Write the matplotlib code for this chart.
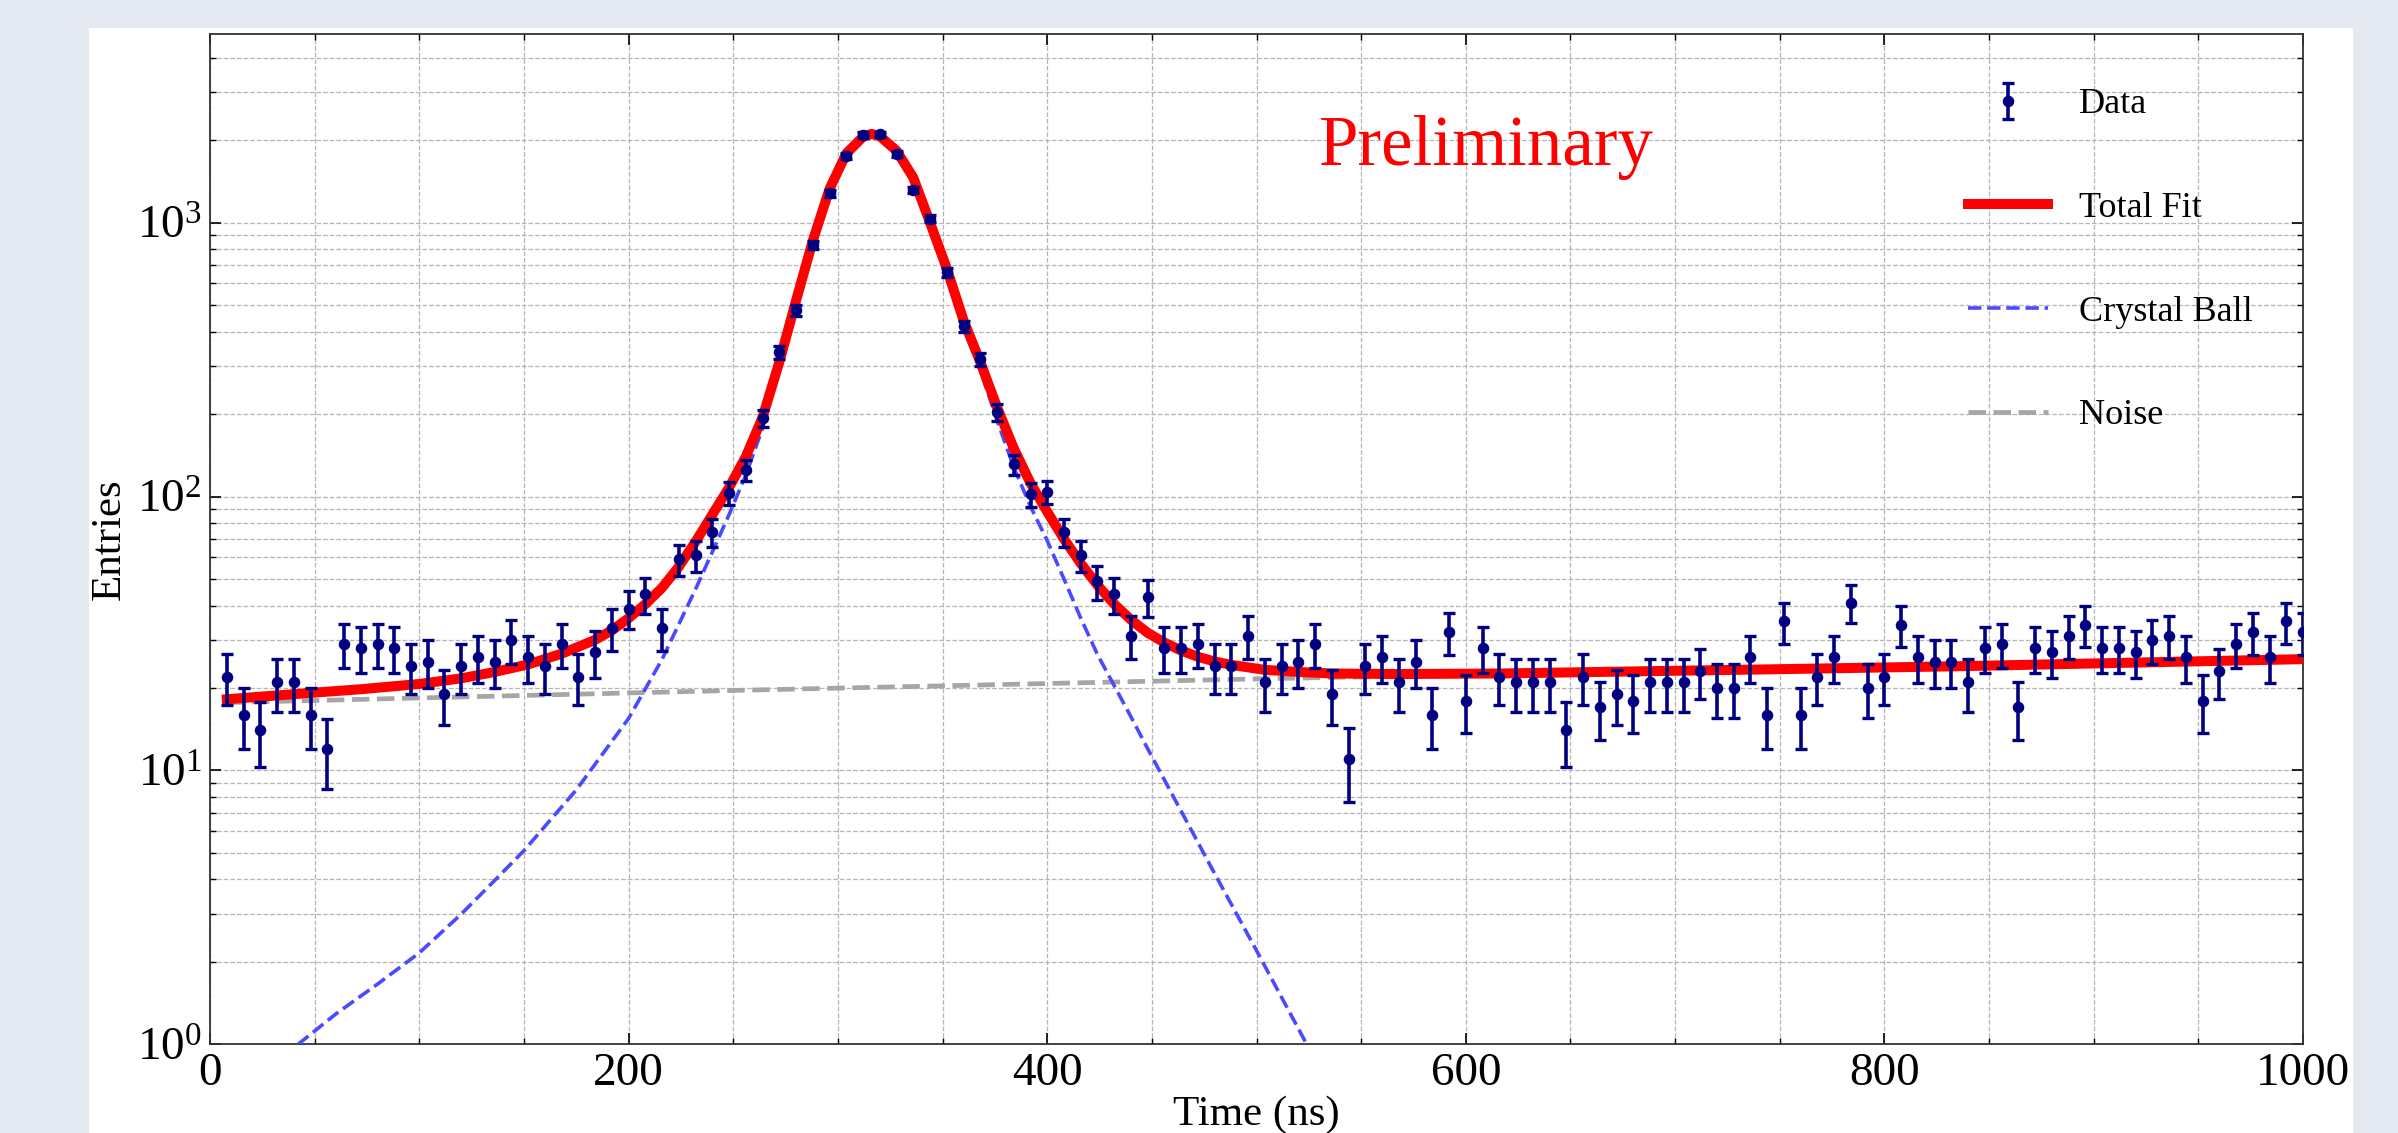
import numpy as np
import matplotlib
matplotlib.use("Agg")
import matplotlib.pyplot as plt
from matplotlib.ticker import MultipleLocator
from matplotlib.patches import Rectangle

plt.rcParams['font.family'] = 'serif'
plt.rcParams['font.serif'] = ['Liberation Serif', 'DejaVu Serif']
plt.rcParams['mathtext.fontset'] = 'stix'

# histogram bin centres (ns) and counts
time_ns = np.arange(8, 1001, 8)
counts = np.array([
    22, 16, 14, 21, 21, 16, 12, 29, 28, 29, 28, 24, 25, 19, 24, 26, 25, 30, 26, 24, 29,
    22, 27, 33, 39, 44, 33, 59, 61, 74, 103, 125, 193, 336, 479, 828, 1280, 1757, 2090, 2105, 1778,
    1315, 1035, 659, 418, 317, 203, 131, 102, 104, 74, 61, 49, 44, 31, 43, 28, 28, 29, 24, 24,
    31, 21, 24, 25, 29, 19, 11, 24, 26, 21, 25, 16, 32, 18, 28, 22, 21, 21, 21, 14, 22,
    17, 19, 18, 21, 21, 21, 23, 20, 20, 26, 16, 35, 16, 22, 26, 41, 20, 22, 34, 26, 25,
    25, 21, 28, 29, 17, 28, 27, 31, 34, 28, 28, 27, 30, 31, 26, 18, 23, 29, 32, 26, 35, 32,
])
errors = np.sqrt(counts)

# total fit curve
fit_x = [8, 24, 48, 72, 100, 120, 136, 152, 168, 184, 192, 200, 208, 216, 224, 232, 240, 248,
         256, 264, 272, 280, 288, 296, 304, 312, 316, 320, 328, 336, 344, 352, 360, 368, 376,
         384, 392, 400, 408, 416, 424, 432, 440, 448, 456, 464, 472, 480, 488, 504, 520, 536,
         568, 616, 664, 744, 832, 912, 1000]
fit_y = [18.2, 18.6, 19.2, 19.8, 20.7, 21.7, 22.9, 24.4, 26.7, 30.0, 32.5, 36.0, 40.5, 46.5,
         55.5, 68.5, 86, 108, 140, 195, 310, 520, 860, 1330, 1790, 2060, 2110, 2070, 1830,
         1460, 1000, 680, 440, 310, 212, 150, 112, 88, 70, 57, 47.5, 40.5, 35.5, 31.8, 29.3,
         27.4, 26, 25, 24.3, 23.3, 22.9, 22.6, 22.5, 22.6, 22.9, 23.4, 24.0, 24.7, 25.5]

# crystal ball component
cb_x = [42, 60, 80, 100, 120, 135, 150, 175, 200, 216, 232, 248, 256, 264, 272, 280, 288,
        296, 304, 312, 316, 320, 328, 336, 344, 352, 360, 368, 376, 384, 392, 400, 408, 416,
        424, 432, 440, 448, 464, 480, 500, 524, 532]
cb_y = [1.0, 1.29, 1.66, 2.16, 2.99, 3.9, 5.1, 8.5, 15.5, 25.5, 46, 86, 120, 178, 295, 500,
        840, 1310, 1770, 2040, 2090, 2050, 1810, 1440, 980, 660, 420, 290, 190, 128, 92, 69,
        50, 36, 26.5, 20.4, 15.7, 12.0, 7.1, 4.2, 2.2, 1.0, 0.77]

# noise component
noise_x = [8, 250, 500, 750, 1000]
noise_y = [17.7, 19.6, 21.6, 23.5, 25.5]

fig = plt.figure(figsize=(23.98, 11.33), dpi=100, facecolor='#e5eaf2')
panel = Rectangle((0.0371, 0.0), 0.944, 0.9756, transform=fig.transFigure,
                  facecolor='white', edgecolor='none', zorder=-10)
fig.add_artist(panel)
ax = fig.add_axes([0.0876, 0.0782, 0.8728, 0.8921])

ax.plot(noise_x, noise_y, ls='--', color='#a6a6a6', lw=3.4, label='Noise', zorder=2)
ax.plot(cb_x, cb_y, ls='--', color='#4a4aff', lw=2.6, label='Crystal Ball', zorder=3)
ax.plot(fit_x, fit_y, color='red', lw=7.2, label='Total Fit', zorder=4)
eb = ax.errorbar(time_ns, counts, yerr=errors, fmt='o', color='#000080', ms=7.3,
                 elinewidth=2.6, capsize=4, capthick=2.4, label='Data', zorder=5)

ax.set_yscale('log')
ax.set_xlim(0, 1000)
ax.set_ylim(1, 4900)
ax.xaxis.set_major_locator(MultipleLocator(200))
ax.xaxis.set_minor_locator(MultipleLocator(50))

ax.grid(True, which='both', ls='--', color='#b5b5b5', lw=0.9)
ax.tick_params(which='both', direction='in', top=True, right=True, labelsize=34, pad=6)
ax.tick_params(which='major', length=8, width=1.2)
ax.tick_params(which='minor', length=4, width=1.0)
for s in ax.spines.values():
    s.set_color('#333333')
    s.set_linewidth(1.3)

ax.set_xlabel('Time (ns)', fontsize=31, labelpad=0)
ax.set_ylabel('Entries', fontsize=31, labelpad=6)

ax.text(0.53, 0.870, 'Preliminary', color='red', fontsize=51, transform=ax.transAxes,
        ha='left', va='baseline')

h, l = ax.get_legend_handles_labels()
order = [l.index('Data'), l.index('Total Fit'), l.index('Crystal Ball'), l.index('Noise')]
ax.legend([h[i] for i in order], [l[i] for i in order], loc='upper left',
          bbox_to_anchor=(0.8315, 0.964), frameon=False, fontsize=26, borderpad=0,
          handlelength=2.2, handletextpad=0.85, labelspacing=1.95)

fig.savefig('out.png', dpi=100, facecolor=fig.get_facecolor())
